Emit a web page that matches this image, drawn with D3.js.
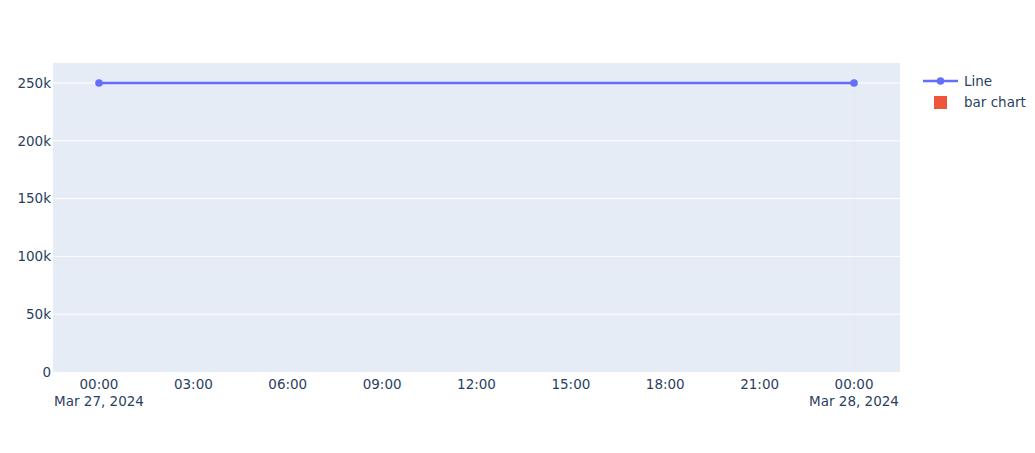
<!DOCTYPE html>
<html>
<head>
<meta charset="utf-8">
<script src="https://cdn.jsdelivr.net/npm/d3@7"></script>
<style>
  body { margin: 0; background: #fff; }
  text { font-family: "DejaVu Sans", Verdana, sans-serif; font-size: 13.5px; fill: #2a3f5f; }
</style>
</head>
<body>
<svg id="chart" width="1035" height="453"></svg>
<script>
"use strict";

const lineDates = ["2024-03-27T00:00", "2024-03-28T00:00"];
const lineValues = [250000, 250000];
const barDates = ["2024-03-28T00:00"];
const barValues = [250000];
const yTicks = [0, 50000, 100000, 150000, 200000, 250000];
const seriesNames = ["Line", "bar chart"];

const parse = d3.timeParse("%Y-%m-%dT%H:%M");
const lineData = lineDates.map((d, i) => ({ t: parse(d), v: lineValues[i] }));
const barData = barDates.map((d, i) => ({ t: parse(d), v: barValues[i] }));

const plot = { left: 53, right: 900, top: 63, bottom: 372 };
const svg = d3.select('#chart');

// autorange-like padding on the time axis
const ext = d3.extent(lineData.concat(barData), d => d.t);
const pad = (ext[1] - ext[0]) * 0.0609;
const x = d3.scaleTime()
  .domain([new Date(+ext[0] - pad), new Date(+ext[1] + pad)])
  .range([plot.left, plot.right]);

const y = d3.scaleLinear()
  .domain([0, 267300])
  .range([plot.bottom, plot.top]);

svg.append('rect')
  .attr('x', plot.left)
  .attr('y', plot.top)
  .attr('width', plot.right - plot.left)
  .attr('height', plot.bottom - plot.top)
  .attr('fill', '#e5ecf6');

// horizontal grid
svg.append('g')
  .selectAll('line')
  .data(yTicks.filter(d => d > 0))
  .enter()
  .append('line')
  .attr('x1', plot.left)
  .attr('x2', plot.right)
  .attr('y1', d => y(d))
  .attr('y2', d => y(d))
  .attr('stroke', '#fff')
  .attr('stroke-width', 1);

// y tick labels
svg.append('g')
  .selectAll('text')
  .data(yTicks)
  .enter()
  .append('text')
  .attr('x', plot.left - 2)
  .attr('y', d => y(d))
  .attr('dy', '0.35em')
  .attr('text-anchor', 'end')
  .text(d => d === 0 ? '0' : (d / 1000) + 'k');

// x tick labels
const xTicks = x.ticks(d3.timeHour.every(3));
const tickG = svg.append('g')
  .selectAll('g')
  .data(xTicks)
  .enter()
  .append('g')
  .attr('transform', d => `translate(${x(d)},0)`);

tickG.append('text')
  .attr('y', 384)
  .attr('dy', '0.35em')
  .attr('text-anchor', 'middle')
  .text(d3.timeFormat('%H:%M'));

tickG.filter(d => d.getHours() === 0)
  .append('text')
  .attr('y', 401)
  .attr('dy', '0.35em')
  .attr('text-anchor', 'middle')
  .text(d3.timeFormat('%b %-d, %Y'));

// bar trace (single point, hairline width)
svg.append('g')
  .selectAll('rect')
  .data(barData)
  .enter()
  .append('rect')
  .attr('x', d => x(d.t) - 0.25)
  .attr('width', 0.5)
  .attr('y', d => y(d.v))
  .attr('height', d => y(0) - y(d.v))
  .attr('fill', '#ef553b')
  .attr('opacity', 0.06);

// line trace
svg.append('path')
  .datum(lineData)
  .attr('fill', 'none')
  .attr('stroke', '#636efa')
  .attr('stroke-width', 2.4)
  .attr('d', d3.line().x(d => x(d.t)).y(d => y(d.v)));

svg.append('g')
  .selectAll('circle')
  .data(lineData)
  .enter()
  .append('circle')
  .attr('cx', d => x(d.t))
  .attr('cy', d => y(d.v))
  .attr('r', 3.8)
  .attr('fill', '#636efa');

// legend
const legend = svg.append('g').attr('transform', 'translate(923,81)');
legend.append('line')
  .attr('x1', 0).attr('x2', 35)
  .attr('stroke', '#636efa').attr('stroke-width', 2.4);
legend.append('circle')
  .attr('cx', 17.5).attr('r', 3.8).attr('fill', '#636efa');
legend.append('text')
  .attr('x', 41).attr('dy', '0.35em').text(seriesNames[0]);

legend.append('rect')
  .attr('x', 11).attr('y', 15).attr('width', 13).attr('height', 13)
  .attr('fill', '#ef553b');
legend.append('text')
  .attr('x', 41).attr('y', 21.5).attr('dy', '0.35em').text(seriesNames[1]);
</script>
</body>
</html>
